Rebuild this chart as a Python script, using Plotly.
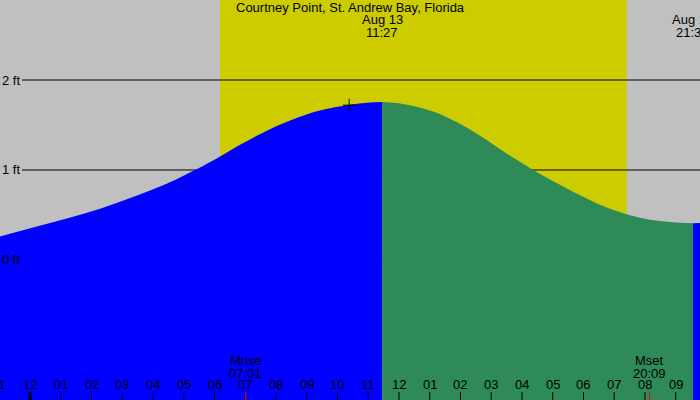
import plotly.graph_objects as go

# Tide at Courtney Point, St. Andrew Bay, Florida - Aug 13
# hours are measured from midnight of Aug 13
tide_hours = [-0.98, 0.10, 1.20, 2.28, 3.35, 4.46, 5.43, 6.18, 6.83, 7.38,
              7.90, 8.46, 9.01, 9.53, 10.31, 11.06, 11.45, 12.03, 12.59, 13.11,
              13.66, 14.21, 14.73, 15.29, 15.84, 16.36, 16.91, 17.46, 17.89, 18.54,
              19.19, 19.84, 20.49, 21.14, 21.56, 21.80]
tide_ft = [0.26, 0.36, 0.46, 0.57, 0.70, 0.85, 1.01, 1.15, 1.28, 1.38,
           1.47, 1.55, 1.62, 1.67, 1.72, 1.75, 1.756, 1.74, 1.70, 1.65,
           1.57, 1.47, 1.36, 1.23, 1.11, 1.00, 0.895, 0.795, 0.72, 0.615,
           0.53, 0.47, 0.433, 0.414, 0.408, 0.41]

high_time, high_label = 11.45, ["Aug 13", "11:27"]
low_time, low_label = 21.56, ["Aug 13", "21:34"]
sunrise, sunset = 6.18, 19.41
moonrise, moonset = 7.017, 20.15
moon_labels = [["Mrise", "07:01"], ["Mset", "20:09"]]
now_time, now_ft = 10.38, 1.72

hour_ticks = list(range(-1, 22))
hour_text = ["%02d" % ((h % 12) or 12) for h in hour_ticks]
level_ticks = [0, 1, 2]

X_RANGE = [-0.976, 21.79]
Y_RANGE = [-1.556, 2.889]
PX_PER_HOUR = 700 / (X_RANGE[1] - X_RANGE[0])
FONT = dict(family="Liberation Sans, Arial, sans-serif", size=13, color="black")

fig = go.Figure()

# rising (blue) / falling (green) parts of the curve, filled down to the bottom
for (t0, t1), col in [((-2, high_time), "#0000ff"),
                      ((high_time, low_time), "#2e8b57"),
                      ((low_time, 30), "#0000ff")]:
    xs = [t for t in tide_hours if t0 <= t <= t1]
    ys = [f for t, f in zip(tide_hours, tide_ft) if t0 <= t <= t1]
    fig.add_trace(go.Scatter(x=[xs[0], xs[-1]], y=[Y_RANGE[0]] * 2, mode="lines",
                             line=dict(width=0), hoverinfo="skip"))
    fig.add_trace(go.Scatter(x=xs, y=ys, mode="lines", fill="tonexty",
                             fillcolor=col, line=dict(width=0, color=col),
                             line_shape="spline", hoverinfo="skip"))

# current time marker
fig.add_trace(go.Scatter(x=[now_time], y=[now_ft], mode="markers",
                         marker=dict(symbol="cross-thin", size=9,
                                     line=dict(width=1, color="black")),
                         hoverinfo="skip"))

shapes = [dict(type="rect", xref="x", yref="paper", x0=sunrise, x1=sunset,
               y0=0, y1=1, fillcolor="#cccc00", line_width=0, layer="below")]
for lv in level_ticks:
    shapes.append(dict(type="line", xref="x", yref="y", x0=-0.26, x1=X_RANGE[1],
                       y0=lv, y1=lv, line=dict(color="black", width=1),
                       layer="below"))
# bottom hour ticks
for h in hour_ticks:
    shapes.append(dict(type="line", xref="x", yref="y", x0=h, x1=h,
                       y0=-1.467, y1=Y_RANGE[0],
                       line=dict(color="black", width=3 if h == 0 else 1)))
for m in [moonrise, moonset]:
    shapes.append(dict(type="line", xref="x", yref="y", x0=m, x1=m,
                       y0=-1.467, y1=Y_RANGE[0],
                       line=dict(color="red", width=1)))


def note(text, x, y, xref="x", yref="y", **kw):
    d = dict(text=text, x=x, y=y, xref=xref, yref=yref, showarrow=False,
             font=FONT, borderpad=0)
    d.update(kw)
    return d


annotations = [note("Courtney Point, St. Andrew Bay, Florida", 0.5, 2.81,
                    xref="paper")]
for t, lab in [(high_time, high_label), (low_time, low_label)]:
    annotations.append(note(lab[0], t, 2.667))
    annotations.append(note(lab[1], t, 2.533))
for t, lab in zip([moonrise, moonset], moon_labels):
    annotations.append(note(lab[0], t, -1.122))
    annotations.append(note(lab[1], t, -1.256))
for h, txt in zip(hour_ticks, hour_text):
    # labels left of the axis start are anchored at the edge and shifted out
    xa = max(h, X_RANGE[0])
    annotations.append(note(txt, xa, -1.389, xshift=(h - xa) * PX_PER_HOUR))
for lv in level_ticks:
    annotations.append(note("%d ft" % lv, 0, lv, xref="paper", xanchor="left",
                            xshift=1))

fig.update_layout(
    width=700, height=400,
    margin=dict(l=0, r=0, t=0, b=0),
    plot_bgcolor="#c0c0c0", paper_bgcolor="#c0c0c0",
    showlegend=False,
    xaxis=dict(range=X_RANGE, visible=False, fixedrange=True),
    yaxis=dict(range=Y_RANGE, visible=False, fixedrange=True),
    shapes=shapes, annotations=annotations,
)

fig.write_html("out.html", config=dict(displayModeBar=False),
               post_script="document.body.style.margin='0';")
